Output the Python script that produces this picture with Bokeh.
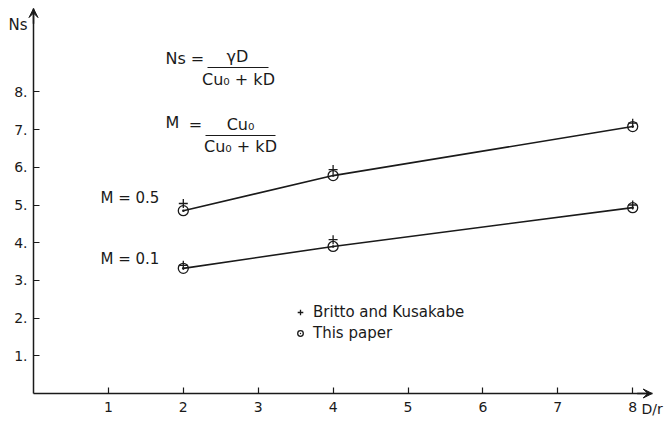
from bokeh.plotting import figure
from bokeh.models import Label, Arrow, VeeHead, FixedTicker, Legend, LegendItem
from bokeh.embed import file_html
from bokeh.resources import INLINE

# ---- data ----
d_over_r = [2, 4, 8]
ns_paper_m05 = [4.85, 5.78, 7.08]
ns_britto_m05 = [5.04, 5.94, 7.17]
ns_paper_m01 = [3.32, 3.90, 4.93]
ns_britto_m01 = [3.40, 4.08, 5.00]

x_ticks = [1, 2, 3, 4, 5, 6, 7, 8]
x_tick_labels = ["1", "2", "3", "4", "5", "6", "7", "8"]
y_ticks = [1, 2, 3, 4, 5, 6, 7, 8]
y_tick_labels = ["1.", "2.", "3.", "4.", "5.", "6.", "7.", "8."]

FONT = "DejaVu Sans"
INK = "#1a1a1a"

# layout geometry (pixels): origin of the axes and scale
W, H = 672, 423
ORIG_X, ORIG_Y = 33, 393
PX_PER_X = 74.9
PX_PER_Y = 37.7
X_END = 8.26   # arrow tip of the x axis
Y_END = 10.21  # arrow tip of the y axis


def X(px):
    return (px - ORIG_X) / PX_PER_X


def Y(py):
    return (ORIG_Y - py) / PX_PER_Y


p = figure(width=W, height=H, x_range=(X(0), X(W)), y_range=(Y(H), Y(0)),
           output_backend="svg", toolbar_location=None,
           min_border=0, min_border_left=0, min_border_right=0,
           min_border_top=0, min_border_bottom=0)
p.outline_line_color = None
p.xgrid.visible = False
p.ygrid.visible = False
p.background_fill_color = "white"
p.border_fill_color = "white"

for ax, ticks, labels, bnd in ((p.xaxis[0], x_ticks, x_tick_labels, (0, X_END)),
                               (p.yaxis[0], y_ticks, y_tick_labels, (0, Y_END))):
    ax.fixed_location = 0
    ax.bounds = bnd
    ax.ticker = FixedTicker(ticks=ticks)
    ax.major_label_overrides = {t: l for t, l in zip(ticks, labels)}
    ax.axis_line_color = INK
    ax.axis_line_width = 1.5
    ax.major_tick_line_color = INK
    ax.major_tick_line_width = 1.2
    ax.major_tick_in = 6
    ax.major_tick_out = 0
    ax.minor_tick_line_color = None
    ax.major_label_text_font = FONT
    ax.major_label_text_font_size = "14px"
    ax.major_label_text_color = INK
p.xaxis.major_label_standoff = 8
p.yaxis.major_label_standoff = 6

# axis arrows
p.add_layout(Arrow(end=VeeHead(size=9, fill_color=INK, line_color=INK),
                   x_start=X_END - 0.2, y_start=0, x_end=X_END, y_end=0,
                   line_color=INK, line_width=1.5))
p.add_layout(Arrow(end=VeeHead(size=9, fill_color=INK, line_color=INK),
                   x_start=0, y_start=Y_END - 0.4, x_end=0, y_end=Y_END,
                   line_color=INK, line_width=1.5))

# curves
p.line(d_over_r, ns_paper_m05, line_color=INK, line_width=1.6)
p.line(d_over_r, ns_paper_m01, line_color=INK, line_width=1.6)

r_paper = p.scatter(d_over_r + d_over_r, ns_paper_m05 + ns_paper_m01,
                    marker="circle_dot", size=10, fill_color=None,
                    line_color=INK, line_width=1.3)
r_britto = p.scatter(d_over_r + d_over_r, ns_britto_m05 + ns_britto_m01,
                     marker="cross", size=9, line_color=INK, line_width=1.3)


def lab(px, py, text, size="15px", align="left"):
    p.add_layout(Label(x=X(px), y=Y(py), text=text, text_font=FONT,
                       text_font_size=size, text_color=INK,
                       text_align=align, text_baseline="middle"))


# axis titles
lab(8, 24, "Ns", "15px")
lab(641, 408, "D/r", "14px")

# curve labels
lab(100, 197, "M = 0.5", "15px")
lab(100, 258, "M = 0.1", "15px")

# formulas
lab(165, 58, "Ns", "16px")
lab(197, 58, "=", "16px", "center")
lab(237, 56, "γD", "16px", "center")
lab(238, 79, "Cu₀ + kD", "16px", "center")
lab(165, 122, "M", "16px")
lab(195, 124, "=", "16px", "center")
lab(240, 124, "Cu₀", "16px", "center")
lab(240, 146, "Cu₀ + kD", "16px", "center")
p.segment(x0=[X(207), X(205)], y0=[Y(67), Y(135)],
          x1=[X(268), X(275)], y1=[Y(67), Y(135)],
          line_color=INK, line_width=1.2)

legend = Legend(items=[LegendItem(label="Britto and Kusakabe", renderers=[r_britto]),
                       LegendItem(label="This paper", renderers=[r_paper])],
                location=(293, 81), orientation="vertical")
legend.label_text_font = FONT
legend.label_text_font_size = "15px"
legend.label_text_color = INK
legend.glyph_width = 14
legend.glyph_height = 16
legend.label_standoff = 6
legend.label_height = 16
legend.spacing = 3
legend.padding = 0
legend.margin = 0
legend.border_line_color = None
legend.background_fill_alpha = 0
p.add_layout(legend)

open("out.html", "w").write(file_html(p, INLINE))
